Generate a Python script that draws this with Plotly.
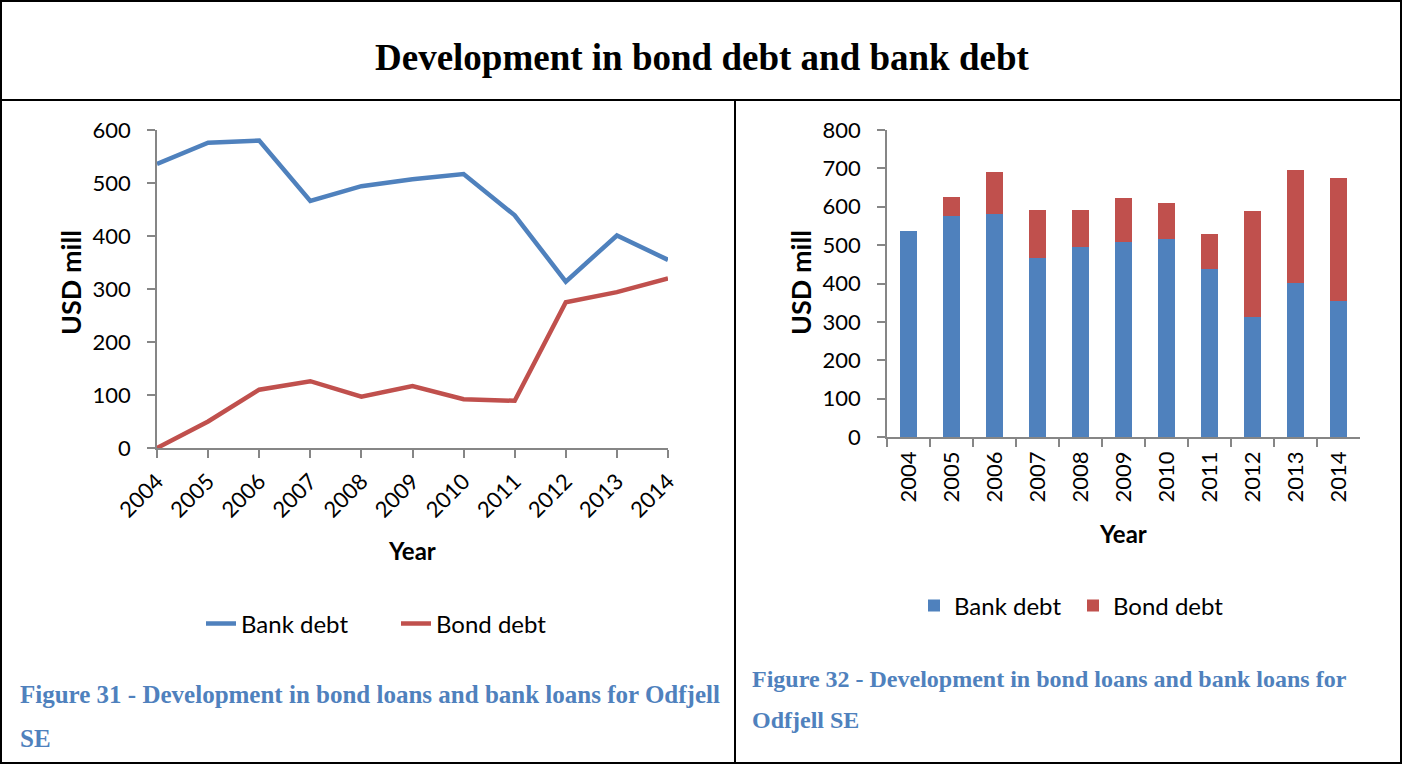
import plotly.graph_objects as go

# Odfjell SE debt by year, USD mill
years = [2004, 2005, 2006, 2007, 2008, 2009, 2010, 2011, 2012, 2013, 2014]
year_labels = [str(y) for y in years]
bank_debt = [536, 576, 580, 466, 494, 507, 517, 439, 314, 401, 355]
bond_debt = [0, 50, 110, 126, 97, 117, 92, 89, 275, 294, 320]

W, H = 1403, 765
BLUE = "#4F81BD"
RED = "#C0504D"
AXIS_GRAY = "#868686"
CAPTION = "#4F81BD"
SANS = "Lato, 'Open Sans', sans-serif"
SERIF = "'Liberation Serif', 'Times New Roman', serif"


def px_x(x):
    return x / W


def px_y(y):
    return 1 - y / H


fig = go.Figure()

# Left: line chart
fig.add_trace(go.Scatter(x=years, y=bank_debt, name="Bank debt", mode="lines",
                         line=dict(color=BLUE, width=4.5), xaxis="x", yaxis="y",
                         legend="legend"))
fig.add_trace(go.Scatter(x=years, y=bond_debt, name="Bond debt", mode="lines",
                         line=dict(color=RED, width=4.5), xaxis="x", yaxis="y",
                         legend="legend"))

# Right: stacked bar chart
fig.add_trace(go.Bar(x=year_labels, y=bank_debt, name="Bank debt", marker_color=BLUE,
                     marker_line_width=0, xaxis="x2", yaxis="y2", legend="legend2"))
fig.add_trace(go.Bar(x=year_labels, y=bond_debt, name="Bond debt", marker_color=RED,
                     marker_line_width=0, xaxis="x2", yaxis="y2", legend="legend2"))

axis_common = dict(showgrid=False, zeroline=False, showline=True, linecolor=AXIS_GRAY,
                   linewidth=1.5, ticks="outside", tickcolor=AXIS_GRAY, ticklen=8,
                   tickwidth=1.5, automargin=False,
                   tickfont=dict(family=SANS, size=22, color="#000"))

fig.update_layout(
    width=W, height=H,
    margin=dict(l=0, r=0, t=0, b=0, pad=0, autoexpand=False),
    paper_bgcolor="white", plot_bgcolor="white",
    barmode="stack", bargap=0.6,
    showlegend=True,
    xaxis=dict(domain=[px_x(157), px_x(668)], range=[2004, 2014], tickvals=years,
               ticktext=year_labels, tickangle=-45, anchor="y",
               ticklabelstandoff=2, **axis_common),
    yaxis=dict(domain=[px_y(448), px_y(130)], range=[0, 600], dtick=100,
               anchor="x", ticklabelstandoff=12, **axis_common),
    xaxis2=dict(domain=[px_x(887), px_x(1360)], type="category", tickson="boundaries",
                tickangle=-90, anchor="y2", ticklabelstandoff=4, **axis_common),
    yaxis2=dict(domain=[px_y(437), px_y(130)], range=[0, 800], dtick=100,
                anchor="x2", ticklabelstandoff=12, **axis_common),
    legend=dict(x=px_x(396), y=px_y(624), xanchor="center", yanchor="middle",
                orientation="h", font=dict(family=SANS, size=24, color="#000"),
                bgcolor="rgba(0,0,0,0)", traceorder="normal",
                entrywidth=150, entrywidthmode="pixels"),
    legend2=dict(x=px_x(1073), y=px_y(606), xanchor="center", yanchor="middle",
                 orientation="h", font=dict(family=SANS, size=24, color="#000"),
                 bgcolor="rgba(0,0,0,0)", traceorder="normal",
                 entrywidth=114, entrywidthmode="pixels"),
)

annotations = [
    dict(text="<b>Development in bond debt and bank debt</b>", x=px_x(702), y=px_y(58),
         font=dict(family=SERIF, size=37, color="#000")),
    dict(text="<b>USD mill</b>", x=px_x(70), y=px_y(283), textangle=-90,
         font=dict(family=SANS, size=27, color="#000")),
    dict(text="<b>Year</b>", x=px_x(412), y=px_y(550),
         font=dict(family=SANS, size=24, color="#000")),
    dict(text="<b>USD mill</b>", x=px_x(800), y=px_y(283), textangle=-90,
         font=dict(family=SANS, size=27, color="#000")),
    dict(text="<b>Year</b>", x=px_x(1123), y=px_y(533),
         font=dict(family=SANS, size=24, color="#000")),
    dict(text="<b>Figure 31 - Development in bond loans and bank loans for Odfjell</b>",
         x=px_x(18), y=px_y(694), xanchor="left",
         font=dict(family=SERIF, size=25, color=CAPTION)),
    dict(text="<b>SE</b>", x=px_x(18), y=px_y(738), xanchor="left",
         font=dict(family=SERIF, size=25, color=CAPTION)),
    dict(text="<b>Figure 32 - Development in bond loans and bank loans for</b>",
         x=px_x(750), y=px_y(679), xanchor="left",
         font=dict(family=SERIF, size=24, color=CAPTION)),
    dict(text="<b>Odfjell SE</b>", x=px_x(750), y=px_y(720), xanchor="left",
         font=dict(family=SERIF, size=24, color=CAPTION)),
]
for a in annotations:
    a.setdefault("xanchor", "center")
    a.update(xref="paper", yref="paper", yanchor="middle", showarrow=False)
fig.update_layout(annotations=annotations)

# Page frame and panel dividers
line = dict(color="#000", width=2)
fig.update_layout(shapes=[
    dict(type="rect", xref="paper", yref="paper", x0=px_x(1), x1=px_x(1401),
         y0=px_y(763), y1=px_y(1), line=line),
    dict(type="line", xref="paper", yref="paper", x0=px_x(1), x1=px_x(1401),
         y0=px_y(100), y1=px_y(100), line=line),
    dict(type="line", xref="paper", yref="paper", x0=px_x(735), x1=px_x(735),
         y0=px_y(100), y1=px_y(763), line=line),
])

fig.write_html("out.html")
